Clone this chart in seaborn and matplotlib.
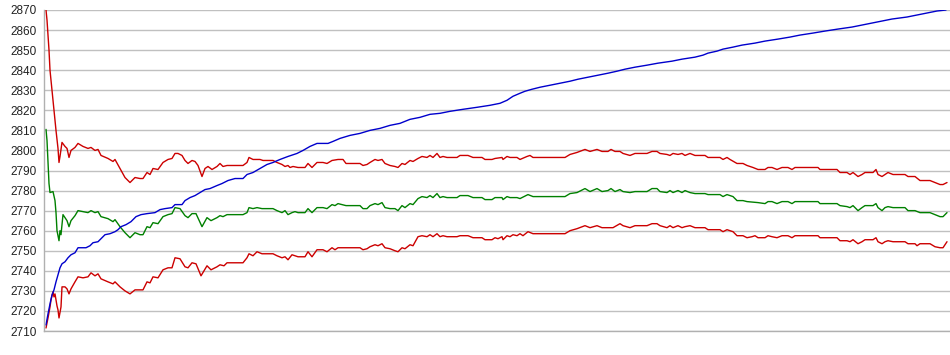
import numpy as np
import pandas as pd
import seaborn as sns
import matplotlib.pyplot as plt

# sample index / value pairs
upper_x = [0, 1, 3, 4, 6, 8, 10, 12, 13, 14, 16, 19, 21, 23, 25, 29, 32, 37, 42, 45, 49, 52, 55, 62, 67, 69, 74, 79, 84, 89,
           94, 97, 101, 104, 107, 112, 117, 122, 126, 129, 132, 136, 139, 142, 146, 149, 152, 156, 159, 162, 166, 171, 174, 177, 181,
           197, 201, 203, 207, 214, 217, 227, 231, 236, 239, 242, 244, 247, 252, 259, 262, 266, 271, 277, 281, 286, 292, 297, 300,
           314, 317, 321, 324, 329, 332, 336, 339, 344, 349, 352, 356, 359, 364, 367, 372, 376, 381, 384, 387, 391, 394, 397, 401,
           411, 414, 422, 427, 436, 439, 446, 449, 456, 457, 461, 464, 471, 474, 481, 484, 487, 519, 524, 531, 539, 544, 551, 556,
           562, 565, 569, 574, 577, 584, 589, 601, 606, 611, 614, 621, 624, 627, 632, 636, 639, 644, 649, 659, 662, 674, 677, 681,
           684, 691, 697, 701, 707, 712, 719, 722, 726, 731, 736, 742, 746, 749, 772, 774, 791, 794, 801, 804, 807, 812, 816, 819,
           827, 830, 832, 836, 839, 842, 847, 859, 862, 869, 874, 884, 889, 894, 897, 901]
upper_y = [2870, 2865, 2850, 2840, 2830, 2820, 2810, 2801, 2794, 2797, 2804, 2802, 2801, 2796.5, 2800, 2801.5, 2803.5, 2802, 2801, 2801.5,
           2800, 2800.5, 2797.5, 2796, 2794.5, 2795.5, 2791, 2786.5, 2784, 2786.5, 2786, 2786, 2789, 2788, 2791, 2790.5, 2794, 2795.5,
           2796, 2798.5, 2798.5, 2797.5, 2795, 2793.5, 2795, 2794.5, 2792.5, 2787, 2791, 2792, 2790.5, 2792, 2793.5, 2792, 2792.5,
           2792.5, 2794, 2796.5, 2795.5, 2795.5, 2795, 2795, 2794, 2793, 2792, 2792.5, 2791.5, 2792, 2791.5, 2791.5, 2793.5, 2791.5,
           2794, 2794, 2793.5, 2795, 2795.5, 2795.5, 2793.5, 2793.5, 2792.5, 2793, 2794, 2795.5, 2795, 2795.5, 2793.5, 2792.5, 2792,
           2791.5, 2793.5, 2793, 2795, 2794.5, 2796, 2797, 2796.5, 2797.5, 2796.5, 2798.5, 2796.5, 2797, 2796.5, 2796.5, 2797.5,
           2797.5, 2796.5, 2796.5, 2795.5, 2795.5, 2796, 2796.5, 2795.5, 2797, 2796.5, 2796.5, 2795.5, 2797, 2797.5, 2796.5, 2796.5,
           2798, 2799, 2800.5, 2799.5, 2800.5, 2799.5, 2799.5, 2800.5, 2799.5, 2799.5, 2798.5, 2797.5, 2798.5, 2798.5, 2799.5, 2799.5,
           2798.5, 2798, 2797.5, 2798.5, 2798, 2798.5, 2797.5, 2798.5, 2797.5, 2797.5, 2796.5, 2796.5, 2795.5, 2796.5, 2795.5, 2793.5,
           2793.5, 2792.5, 2791.5, 2790.5, 2790.5, 2791.5, 2791.5, 2790.5, 2791.5, 2791.5, 2790.5, 2791.5, 2791.5, 2790.5, 2790.5,
           2789, 2789, 2788, 2789, 2787, 2788, 2789, 2789, 2790.5, 2788, 2787, 2788, 2789, 2788, 2788, 2787, 2787, 2785, 2785, 2784,
           2783, 2783, 2784]

mid_x = [0, 1, 2, 3, 4, 7, 9, 10, 11, 13, 14, 15, 17, 19, 21, 23, 25, 29, 32, 37, 42, 45, 49, 52, 55, 62, 67, 69, 74, 79, 84,
         89, 94, 97, 101, 104, 107, 112, 117, 122, 126, 129, 134, 139, 142, 146, 150, 156, 161, 165, 171, 174, 177, 181, 197, 201,
         203, 207, 211, 216, 227, 231, 236, 239, 242, 246, 249, 252, 259, 262, 266, 271, 277, 281, 286, 289, 292, 300, 314, 317,
         321, 324, 329, 332, 336, 339, 344, 349, 352, 356, 359, 364, 367, 372, 376, 381, 384, 387, 391, 394, 397, 401, 411, 414,
         422, 427, 436, 439, 446, 449, 456, 457, 461, 464, 471, 474, 482, 487, 519, 524, 531, 539, 544, 551, 556, 562, 565, 569,
         574, 577, 584, 589, 601, 606, 611, 614, 621, 624, 627, 632, 636, 639, 644, 649, 659, 662, 674, 677, 681, 687, 691, 697,
         701, 712, 719, 722, 726, 731, 736, 742, 746, 749, 772, 774, 791, 794, 801, 804, 807, 812, 816, 819, 827, 830, 832, 836,
         839, 842, 847, 859, 862, 869, 874, 884, 889, 894, 897, 901]
mid_y = [2810.5, 2805, 2794, 2783.5, 2779, 2779.5, 2775, 2769, 2760, 2755, 2760, 2758, 2768, 2766.5, 2765, 2762, 2765, 2767.5,
         2770, 2769.5, 2769, 2770, 2769, 2769.5, 2767, 2766, 2764.5, 2765.5, 2762, 2759, 2756.5, 2759, 2758, 2758, 2762, 2761.5,
         2764, 2763.5, 2767, 2768, 2768.5, 2771.5, 2771, 2767.5, 2766.5, 2768.5, 2768.5, 2762, 2766.5, 2765, 2766.5, 2767.5, 2767,
         2768, 2768, 2769, 2771.5, 2771, 2771.5, 2771, 2771, 2770, 2769, 2770, 2768, 2769, 2769.5, 2769, 2769, 2771, 2769, 2771.5,
         2771.5, 2771, 2773, 2772.5, 2773.5, 2772.5, 2772.5, 2771, 2771, 2772.5, 2773.5, 2773, 2774, 2771.5, 2771, 2771, 2770,
         2772.5, 2771.5, 2773.5, 2773, 2776, 2777, 2776.5, 2777.5, 2776.5, 2778.5, 2776.5, 2777, 2776.5, 2776.5, 2777.5, 2777.5,
         2776.5, 2776.5, 2775.5, 2775.5, 2776.5, 2776.5, 2775.5, 2777, 2776.5, 2776.5, 2776, 2778, 2777, 2777, 2778.5, 2779, 2781,
         2779.5, 2781, 2779.5, 2780, 2781, 2779.5, 2780.5, 2779.5, 2779, 2779.5, 2779.5, 2781, 2781, 2779.5, 2779, 2780, 2779,
         2780, 2779, 2780, 2779, 2778.5, 2778.5, 2778, 2778, 2777, 2778, 2777, 2775, 2775, 2774.5, 2774, 2773.5, 2774.5, 2774.5,
         2773.5, 2774.5, 2774.5, 2773.5, 2774.5, 2774.5, 2773.5, 2773.5, 2772.5, 2772, 2771.5, 2772.5, 2770, 2771.5, 2772.5,
         2772.5, 2773.5, 2771.5, 2770, 2771.5, 2772, 2771.5, 2771.5, 2770, 2770, 2769, 2769, 2768, 2767, 2767, 2769]

lower_x = [0, 2, 4, 5, 7, 8, 9, 11, 12, 13, 15, 16, 19, 21, 23, 25, 29, 32, 37, 42, 45, 49, 52, 55, 62, 67, 69, 74, 79, 84, 89,
           94, 97, 101, 104, 107, 112, 117, 122, 126, 129, 134, 139, 142, 146, 150, 155, 158, 161, 165, 171, 174, 178, 181, 197,
           201, 203, 207, 211, 216, 227, 231, 236, 239, 242, 246, 249, 252, 259, 262, 266, 271, 277, 281, 286, 289, 292, 314, 317,
           321, 324, 329, 332, 336, 339, 344, 349, 352, 356, 359, 364, 367, 372, 376, 381, 384, 387, 391, 394, 397, 401, 411, 414,
           422, 427, 436, 439, 446, 449, 452, 456, 457, 461, 464, 467, 471, 474, 477, 482, 487, 519, 524, 531, 539, 544, 551, 556,
           567, 574, 577, 584, 589, 601, 606, 611, 614, 621, 624, 627, 632, 636, 639, 644, 649, 659, 662, 674, 677, 681, 687, 691,
           697, 701, 706, 709, 712, 719, 722, 726, 731, 736, 742, 746, 749, 772, 774, 791, 794, 801, 804, 807, 812, 816, 819, 827,
           830, 832, 836, 839, 842, 847, 859, 862, 869, 871, 874, 884, 889, 894, 897, 901]
lower_y = [2711.5, 2716.5, 2722, 2725.5, 2729.5, 2727, 2728.5, 2722.5, 2720.5, 2716.5, 2722, 2732, 2732, 2731, 2728.5, 2731,
           2734.5, 2737, 2736.5, 2737, 2739, 2737.5, 2738.5, 2736, 2734.5, 2733.5, 2734.5, 2732, 2730, 2728.5, 2730.5, 2730.5,
           2730.5, 2734.5, 2734, 2737, 2736.5, 2740.5, 2741.5, 2741.5, 2746.5, 2746, 2742, 2741.5, 2744, 2743.5, 2737.5, 2740,
           2742.5, 2740.5, 2742, 2743, 2742.5, 2744, 2744, 2746.5, 2748.5, 2747.5, 2749.5, 2748.5, 2748.5, 2747.5, 2746.5, 2747,
           2745.5, 2748, 2747.5, 2747, 2747, 2749.5, 2747, 2750.5, 2750.5, 2749.5, 2751.5, 2750.5, 2751.5, 2751.5, 2750.5, 2751,
           2752, 2753, 2752.5, 2753.5, 2751.5, 2751, 2750, 2749.5, 2751.5, 2751, 2753, 2752.5, 2757, 2757.5, 2757, 2758, 2757,
           2758.5, 2757, 2757.5, 2757, 2757, 2757.5, 2757.5, 2756.5, 2756.5, 2755.5, 2755.5, 2756.5, 2756, 2757, 2755.5, 2757.5,
           2757, 2758, 2757.5, 2758.5, 2757.5, 2759.5, 2758.5, 2758.5, 2760, 2761, 2762.5, 2761.5, 2762.5, 2761.5, 2761.5, 2763.5,
           2762.5, 2761.5, 2762.5, 2762.5, 2763.5, 2763.5, 2762.5, 2761.5, 2762.5, 2761.5, 2762.5, 2761.5, 2762, 2762.5, 2761.5,
           2761.5, 2760.5, 2760.5, 2759.5, 2760.5, 2759.5, 2757.5, 2757.5, 2756.5, 2757, 2757.5, 2756.5, 2756.5, 2757.5, 2757,
           2756.5, 2757.5, 2757.5, 2756.5, 2757.5, 2757.5, 2756.5, 2756.5, 2755, 2755, 2754.5, 2755.5, 2753.5, 2754.5, 2755.5,
           2755.5, 2756.5, 2754.5, 2753.5, 2754.5, 2755, 2754.5, 2754.5, 2753.5, 2753.5, 2752.5, 2753.5, 2753.5, 2752, 2751.5,
           2751.5, 2754.5]

price_x = [0, 2, 4, 6, 8, 10, 12, 14, 16, 19, 22, 25, 29, 32, 40, 44, 47, 52, 55, 59, 64, 69, 72, 75, 80, 85, 90, 95, 101,
           109, 114, 119, 126, 129, 136, 139, 144, 149, 154, 159, 164, 171, 176, 182, 189, 197, 201, 207, 214, 221, 227, 234, 242,
           251, 257, 264, 271, 282, 287, 294, 304, 314, 324, 334, 344, 354, 364, 374, 384, 394, 404, 417, 431, 444, 454, 461, 467,
           474, 479, 486, 494, 504, 514, 524, 532, 542, 552, 562, 571, 579, 589, 601, 612, 626, 636, 649, 657, 662, 671, 677, 687,
           696, 709, 719, 732, 744, 754, 767, 779, 792, 806, 816, 826, 836, 846, 861, 871, 881, 891, 900]
price_y = [2713, 2718.5, 2723.5, 2728, 2730.5, 2734.5, 2738, 2741.5, 2743.5, 2744.5, 2746.5, 2748, 2749, 2751.5, 2751.5, 2752.5,
           2754, 2754.5, 2756, 2758, 2758.5, 2759.5, 2760.5, 2762, 2763, 2764.5, 2767, 2768, 2768.5, 2769, 2770.5, 2771, 2771.5,
           2773, 2773, 2775, 2776.5, 2777.5, 2779, 2780.5, 2781, 2782.5, 2783.5, 2785, 2786, 2786, 2788, 2789, 2791, 2793, 2794,
           2795.5, 2797, 2798.5, 2800, 2802, 2803.5, 2803.5, 2804.5, 2806, 2807.5, 2808.5, 2810, 2811, 2812.5, 2813.5, 2815.5,
           2816.5, 2818, 2818.5, 2819.5, 2820.5, 2821.5, 2822.5, 2823.5, 2825, 2827, 2828.5, 2829.5, 2830.5, 2831.5, 2832.5, 2833.5,
           2834.5, 2835.5, 2836.5, 2837.5, 2838.5, 2839.5, 2840.5, 2841.5, 2842.5, 2843.5, 2844.5, 2845.5, 2846.5, 2847.5, 2848.5,
           2849.5, 2850.5, 2851.5, 2852.5, 2853.5, 2854.5, 2855.5, 2856.5, 2857.5, 2858.5, 2859.5, 2860.5, 2861.5, 2862.5, 2863.5,
           2864.5, 2865.5, 2866.5, 2867.5, 2868.5, 2869.5, 2870]

y_ticks = list(range(2710, 2871, 10))

sns.set_style('white')
plt.rcParams['font.family'] = ['Liberation Sans', 'DejaVu Sans']

fig = plt.figure(figsize=(9.5, 3.55), dpi=100)
ax = fig.add_axes([44 / 950, 24 / 355, 906 / 950, 321 / 355])

series = [
    (upper_x, upper_y, '#cc0000'),
    (mid_x, mid_y, '#008000'),
    (lower_x, lower_y, '#cc0000'),
    (price_x, price_y, '#0000cc'),
]
for xs, ys, col in series:
    d = pd.DataFrame({'t': xs, 'v': ys})
    sns.lineplot(data=d, x='t', y='v', ax=ax, color=col, linewidth=1.0, sort=False)

ax.set_xlim(-2, 904)
ax.set_ylim(2710, 2870)
ax.set_yticks(y_ticks)
ax.set_xticks([])
ax.set_xlabel('')
ax.set_ylabel('')
ax.grid(axis='y', color='#c0c0c0', linewidth=1.0)
ax.set_axisbelow(True)
ax.tick_params(axis='y', length=0, pad=5, labelsize=8.5, labelcolor='#222222')
for side in ['top', 'right']:
    ax.spines[side].set_visible(False)
for side in ['left', 'bottom']:
    ax.spines[side].set_color('#b0b0b0')
    ax.spines[side].set_linewidth(1.0)

fig.savefig('out.png', dpi=100)
